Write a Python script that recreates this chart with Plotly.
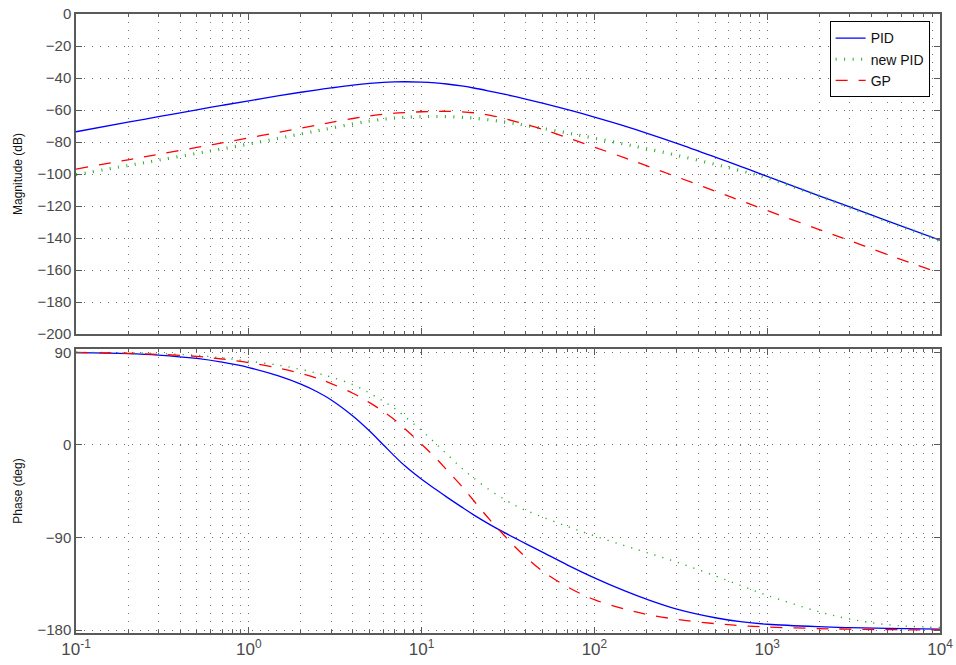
import plotly.graph_objects as go
from plotly.subplots import make_subplots

# Frequency grid (rad/s) shared by every response curve
freq = [0.1, 0.2, 0.3, 0.5, 0.7, 1, 1.5, 2, 2.5, 3, 4, 5, 6, 7, 8, 10, 12, 14, 17,
        20, 25, 30, 35, 40, 50, 70, 100, 150, 200, 300, 500, 700, 1000, 2000, 3000,
        5000, 10000]

# Magnitude responses (dB)
mag_pid = [-73.6, -67.6, -64.2, -59.9, -57.1, -54.3, -51.0, -48.9, -47.35, -46.2,
           -44.5, -43.4, -42.75, -42.45, -42.35, -42.55, -43.05, -43.75, -44.95, -46.25,
           -48.3, -50.05, -51.7, -53.15, -55.7, -59.8, -64.5, -70.1, -74.4, -80.8,
           -89.4, -95.2, -101.5, -113.6, -120.6, -129.5, -141.4]
mag_new_pid = [-100.4, -94.7, -91.35, -87.1, -84.3, -81.3, -77.6, -74.97, -72.93, -71.27,
               -68.71, -66.92, -65.77, -65.03, -64.57, -64.13, -64.05, -64.15, -64.53, -65.1,
               -66.26, -67.45, -68.59, -69.63, -71.47, -74.39, -77.61, -81.39, -84.18, -88.32,
               -93.98, -97.92, -102.42, -113.86, -120.9, -129.78, -141.67]
mag_gp = [-96.9, -91.1, -87.7, -83.4, -80.5, -77.4, -73.85, -71.3, -69.3, -67.7,
          -65.3, -63.7, -62.7, -62.0, -61.6, -61.1, -60.85, -60.8, -61.1, -61.7,
          -63.3, -65.3, -67.2, -68.9, -72.0, -77.4, -83.2, -89.9, -94.8, -101.8,
          -110.7, -116.6, -122.8, -134.7, -141.6, -150.5, -162.0]

# Phase responses (deg)
ph_pid = [89.6, 88.7, 87.3, 84.0, 80.35, 75.2, 66.8, 59.0, 51.4, 43.7,
          28.1, 13.5, 0.2, -11.1, -20.3, -33.4, -42.9, -50.7, -60.2, -67.9,
          -77.6, -84.9, -90.8, -95.8, -104.1, -116.7, -129.1, -141.8, -149.8, -159.5,
          -167.9, -171.7, -174.2, -176.6, -177.5, -178.3, -179.0]
ph_new_pid = [90.0, 89.5, 88.8, 87.0, 84.6, 81.4, 77.4, 73.3, 69.6, 65.9,
              58.6, 50.3, 42.5, 35.3, 27.6, 14.0, 1.8, -8.9, -22.2, -32.1,
              -44.3, -52.6, -59.0, -63.5, -70.0, -79.3, -88.3, -97.9, -104.4, -113.9,
              -127.2, -136.5, -146.1, -162.1, -169.1, -174.7, -177.4]
ph_gp = [89.8, 89.0, 88.0, 86.0, 83.5, 80.0, 74.5, 69.5, 64.7, 59.6,
         50.2, 41.1, 32.5, 24.2, 15.8, 0.7, -12.3, -24.3, -39.8, -54.0,
         -73.3, -87.8, -99.7, -108.9, -122.5, -138.0, -150.3, -159.5, -164.5, -169.4,
         -173.6, -175.5, -176.9, -178.4, -179.0, -179.4, -179.8]

# Axis ticks
x_tickvals = [0.1, 1, 10, 100, 1000, 10000]
x_ticktext = ["10<sup>-1</sup>", "10<sup>0</sup>", "10<sup>1</sup>",
              "10<sup>2</sup>", "10<sup>3</sup>", "10<sup>4</sup>"]
mag_ticks = [0, -20, -40, -60, -80, -100, -120, -140, -160, -180, -200]
phase_ticks = [90, 0, -90, -180]

FONT = "Liberation Sans, Arial, Helvetica, sans-serif"
BLUE, GREEN, RED = "#0000ff", "#22b022", "#ff0000"
AXIS_GRAY = "#5a5a5a"

fig = make_subplots(rows=2, cols=1, shared_xaxes=True, vertical_spacing=0.0)

mag_styles = {
    "PID": dict(color=BLUE, width=1.3, shape="spline", smoothing=1.0),
    "new PID": dict(color=GREEN, width=3.2, dash="1px,7.5px", shape="spline", smoothing=1.0),
    "GP": dict(color=RED, width=1.3, dash="12px,11px", shape="spline", smoothing=1.0),
}
phase_styles = {
    "PID": dict(color=BLUE, width=1.3, shape="spline", smoothing=1.0),
    "new PID": dict(color=GREEN, width=1.4, dash="1.2px,7px", shape="spline", smoothing=1.0),
    "GP": dict(color=RED, width=1.3, dash="12px,11px", shape="spline", smoothing=1.0),
}

for name, m in [("PID", mag_pid), ("new PID", mag_new_pid), ("GP", mag_gp)]:
    fig.add_trace(go.Scatter(x=freq, y=m, mode="lines", name=name,
                             line=mag_styles[name]), row=1, col=1)
for name, p in [("PID", ph_pid), ("new PID", ph_new_pid), ("GP", ph_gp)]:
    fig.add_trace(go.Scatter(x=freq, y=p, mode="lines", name=name, showlegend=False,
                             line=phase_styles[name]), row=2, col=1)

minor_vals = [m * 10 ** e for e in range(-1, 4) for m in range(2, 10)]

grid_common = dict(showgrid=True, gridcolor="#6e6e6e", griddash="1px,7px", gridwidth=1)
axis_common = dict(showline=True, linecolor=AXIS_GRAY, linewidth=1.5, mirror="ticks",
                   ticks="inside", ticklen=6, tickcolor=AXIS_GRAY,
                   zeroline=False, automargin=False,
                   tickfont=dict(family=FONT, size=15, color="#4a4a4a"))

fig.update_xaxes(type="log", range=[-1, 4], tickmode="array", tickvals=x_tickvals,
                 ticktext=x_ticktext,
                 minor=dict(tickmode="array", tickvals=minor_vals, ticks="inside",
                            ticklen=3, tickcolor=AXIS_GRAY, showgrid=True,
                            gridcolor="#7a7a7a", griddash="1px,7px", gridwidth=1),
                 **grid_common, **axis_common)
fig.update_xaxes(showticklabels=False, row=1, col=1)
fig.update_xaxes(tickfont=dict(family=FONT, size=17, color="#4a4a4a"), row=2, col=1)

fig.update_yaxes(range=[-200, 0], tickmode="array", tickvals=mag_ticks,
                 title=dict(text="Magnitude (dB)", font=dict(family=FONT, size=12, color="#111"),
                            standoff=12),
                 **grid_common, **axis_common, row=1, col=1)
fig.update_yaxes(range=[-182.7, 93.2], tickmode="array", tickvals=phase_ticks,
                 title=dict(text="Phase (deg)", font=dict(family=FONT, size=12, color="#111"),
                            standoff=12),
                 **grid_common, **axis_common, row=2, col=1)

fig.update_layout(
    width=956, height=665,
    margin=dict(l=76, r=16, t=14, b=32),
    plot_bgcolor="white", paper_bgcolor="white",
    showlegend=True,
    legend=dict(x=0.988, y=0.988, xanchor="right", yanchor="top",
                bgcolor="white", bordercolor="black", borderwidth=1,
                font=dict(family=FONT, size=14, color="#111"),
                tracegroupgap=0, itemwidth=30),
)
fig.layout.yaxis.domain = [0.4830, 1.0]
fig.layout.yaxis2.domain = [0.0, 0.4588]

fig.write_html("out.html")
